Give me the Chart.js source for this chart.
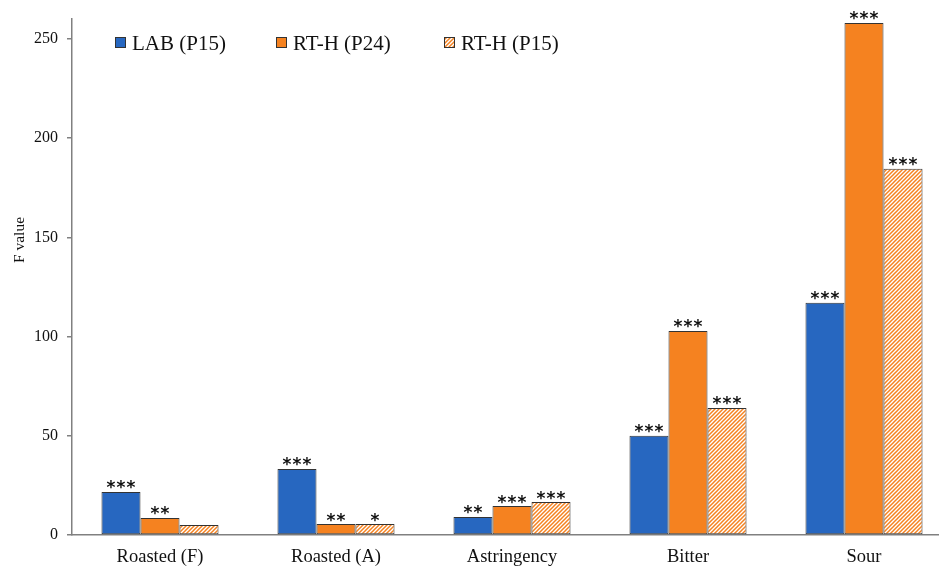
<!DOCTYPE html>
<html>
<head>
<meta charset="utf-8">
<script src="https://cdn.jsdelivr.net/npm/chart.js@4.4.1/dist/chart.umd.min.js"></script>
<style>
  html, body { margin: 0; padding: 0; background: #fff; overflow: hidden; }
  #wrap { position: relative; width: 952px; height: 566px; }
</style>
</head>
<body>
<div id="wrap"><canvas id="chart"></canvas></div>
<script>
// Sensory attributes and F values from the ANOVA
const categories = ['Roasted (F)', 'Roasted (A)', 'Astringency', 'Bitter', 'Sour'];
const labP15 = [21.7, 33.3, 9.1, 50.0, 117.0];
const rthP24 = [8.6, 5.5, 14.6, 102.8, 258.0];
const rthP15 = [5.0, 5.5, 16.6, 64.0, 184.5];

// Significance markers per bar
const sigLabP15 = ['***', '***', '**', '***', '***'];
const sigRthP24 = ['**', '**', '***', '***', '***'];
const sigRthP15 = ['', '*', '***', '***', '***'];

const seriesNames = ['LAB (P15)', 'RT-H (P24)', 'RT-H (P15)'];
const yTicks = [0, 50, 100, 150, 200, 250];
const yTitle = 'F value';

const BLUE = '#2767c0';
const ORANGE = '#f58220';
const EDGE = '#333333';
const SERIF = '"Liberation Serif", "Times New Roman", serif';

// Diagonal hatch fill for RT-H (P15)
function makeHatch() {
  const s = 4;
  const c = document.createElement('canvas');
  c.width = s; c.height = s;
  const g = c.getContext('2d');
  g.fillStyle = '#fff';
  g.fillRect(0, 0, s, s);
  g.strokeStyle = ORANGE;
  g.lineWidth = 1.5;
  g.beginPath();
  g.moveTo(-1, s + 1); g.lineTo(s + 1, -1);
  g.moveTo(-1, 1); g.lineTo(1, -1);
  g.moveTo(s - 1, s + 1); g.lineTo(s + 1, s - 1);
  g.stroke();
  return g.createPattern(c, 'repeat');
}
const hatch = makeHatch();

const fills = [BLUE, ORANGE, hatch];
const sigs = [sigLabP15, sigRthP24, sigRthP15];

// Asterisks above each bar, spaced one by one
const sigPlugin = {
  id: 'sigMarks',
  afterDatasetsDraw(chart) {
    const ctx = chart.ctx;
    ctx.save();
    ctx.font = 'bold 17px "DejaVu Sans", sans-serif';
    ctx.fillStyle = '#111';
    ctx.textAlign = 'center';
    ctx.textBaseline = 'alphabetic';
    const step = 10;
    chart.data.datasets.forEach((ds, di) => {
      chart.getDatasetMeta(di).data.forEach((bar, i) => {
        const t = sigs[di][i];
        const n = t.length;
        for (let k = 0; k < n; k++) {
          const x = bar.x + (k - (n - 1) / 2) * step;
          ctx.fillText('*', x, bar.y + 1.5);
        }
      });
    });
    ctx.restore();
  }
};

// Legend inside the plot area along the top, and the y-axis title
const legendPlugin = {
  id: 'innerLegend',
  afterDraw(chart) {
    const ctx = chart.ctx;
    const L = chart.chartArea.left;
    const xs = [43, 204, 372];
    ctx.save();
    ctx.font = '21px ' + SERIF;
    ctx.textBaseline = 'alphabetic';
    ctx.textAlign = 'left';
    seriesNames.forEach((name, i) => {
      const x = L + xs[i];
      ctx.fillStyle = fills[i];
      ctx.fillRect(x, 37, 11, 11);
      ctx.strokeStyle = EDGE;
      ctx.lineWidth = 1;
      ctx.strokeRect(x + 0.5, 37.5, 10, 10);
      ctx.fillStyle = '#111';
      ctx.fillText(name, x + 17, 50);
    });
    // y-axis title
    ctx.translate(20, 240);
    ctx.rotate(-Math.PI / 2);
    ctx.font = '15.5px ' + SERIF;
    ctx.textAlign = 'center';
    ctx.textBaseline = 'middle';
    ctx.fillStyle = '#111';
    ctx.fillText(yTitle, 0, 0);
    ctx.restore();
  }
};

const datasetValues = [labP15, rthP24, rthP15];

new Chart(document.getElementById('chart'), {
  type: 'bar',
  data: {
    labels: categories,
    datasets: datasetValues.map((vals, i) => ({
      label: seriesNames[i],
      data: vals,
      backgroundColor: fills[i],
      borderColor: EDGE,
      borderWidth: 1,
      borderSkipped: false,
      barPercentage: 1,
      categoryPercentage: 0.665
    }))
  },
  options: {
    responsive: true,
    maintainAspectRatio: false,
    animation: false,
    layout: { padding: { top: 19, left: 0, right: 0, bottom: 0 } },
    plugins: {
      legend: { display: false },
      tooltip: { enabled: false }
    },
    scales: {
      x: {
        offset: true,
        grid: { display: false, drawTicks: false },
        border: { display: true, color: '#808080', width: 1.5 },
        ticks: {
          color: '#111',
          font: { family: SERIF, size: 18.5 },
          padding: 11,
          maxRotation: 0
        },
        afterFit(scale) { scale.height = 31; }
      },
      y: {
        min: 0,
        max: 260,
        afterBuildTicks(scale) { scale.ticks = yTicks.map(v => ({ value: v })); },
        grid: {
          drawOnChartArea: false,
          drawTicks: true,
          tickLength: 5,
          color: '#808080',
          lineWidth: 1.5
        },
        border: { display: true, color: '#808080', width: 1.5 },
        ticks: {
          color: '#111',
          font: { family: SERIF, size: 16 },
          padding: 9
        },
        afterFit(scale) { scale.width = 72; }
      }
    }
  },
  plugins: [sigPlugin, legendPlugin]
});
</script>
</body>
</html>
